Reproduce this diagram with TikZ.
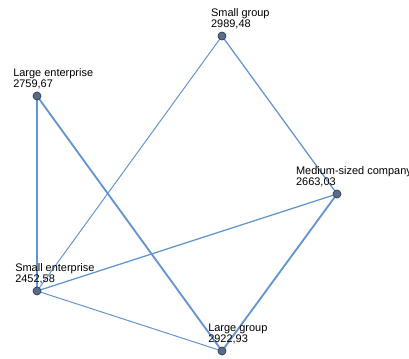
\documentclass[tikz,border=0pt]{standalone}
\usepackage{fontspec}
\setmainfont{Liberation Sans}
\usetikzlibrary{positioning,backgrounds}
\definecolor{edgeblue}{RGB}{98,148,208}
\definecolor{dotfill}{RGB}{88,108,140}
\definecolor{dotline}{RGB}{50,60,80}
\tikzset{
    every node/.style={color=black, font=\fontsize{7.8}{7.6}\selectfont}
}

\begin{document}
\begin{tikzpicture}[
        x=0.025cm, y=-0.025cm,
        dot/.style={circle, fill=dotfill, draw=dotline, line width=0.5pt, minimum size=0.2cm, inner sep=0pt},
        lbl/.style={align=left, inner sep=0pt},
        thin edge/.style={edgeblue, line width=0.7pt},
        mid edge/.style={edgeblue, line width=0.9pt},
        thick edge/.style={edgeblue, line width=1.3pt}
    ]
    \useasboundingbox (0,0) rectangle (409,358);

    % Nodes
    \node[dot] (sg) at (222,36)  {};
    \node[dot] (le) at (37,96)   {};
    \node[dot] (mc) at (337,194) {};
    \node[dot] (se) at (37,291)  {};
    \node[dot] (lg) at (222,351) {};

    % Labels sit above and slightly left of each dot
    \node[lbl, above right=0.17cm and -0.28cm of sg.center] (sg label) {Small group\\2989,48};
    \node[lbl, above right=0.17cm and -0.6cm of le.center]  (le label) {Large enterprise\\2759,67};
    \node[lbl, above right=0.17cm and -1.03cm of mc.center] (mc label) {Medium-sized company\\2663,03};
    \node[lbl, above right=0.17cm and -0.55cm of se.center] (se label) {Small enterprise\\2452,58};
    \node[lbl, above right=0.17cm and -0.35cm of lg.center] (lg label) {Large group\\2922,93};

    % Connections, kept under the dots
    \begin{scope}[on background layer]
        \draw[thick edge] (le.center) -- (se.center);
        \draw[thick edge] (le.center) -- (lg.center);
        \draw[thin edge]  (sg.center) -- (se.center);
        \draw[mid edge]   (sg.center) -- (mc.center);
        \draw[mid edge]   (mc.center) -- (se.center);
        \draw[thick edge] (mc.center) -- (lg.center);
        \draw[thin edge]  (se.center) -- (lg.center);
    \end{scope}
\end{tikzpicture}
\end{document}
